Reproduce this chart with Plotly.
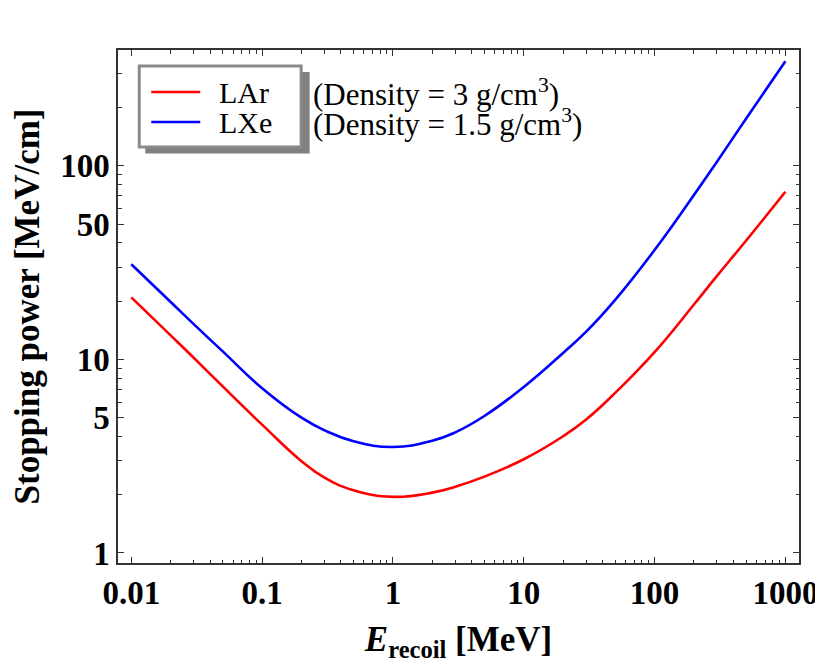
import plotly.graph_objects as go

# ---- data ----
energy_mev = [0.01, 0.02, 0.03, 0.05, 0.1, 0.2, 0.3, 0.5, 1, 2, 3, 5, 10, 20, 30, 50,
              100, 200, 300, 500, 1000]
lar_stopping = [20.9, 13.3, 10.2, 7.25, 4.6, 2.98, 2.45, 2.11, 1.95, 2.05, 2.2, 2.48,
                3.05, 4.01, 4.89, 6.71, 10.9, 19.2, 27.0, 41.0, 73.4]
lxe_stopping = [31.0, 19.8, 15.2, 11.0, 7.1, 5.0, 4.3, 3.78, 3.53, 3.8, 4.2, 5.1,
                7.2, 10.8, 13.9, 20.3, 36.7, 70.6, 105, 175, 347]

series_names = ["LAr", "LXe"]
density_notes = ["(Density = 3 g/cm<sup>3</sup>)", "(Density = 1.5 g/cm<sup>3</sup>)"]

x_tick_vals = [0.01, 0.1, 1, 10, 100, 1000]
x_tick_text = ["0.01", "0.1", "1", "10", "100", "1000"]
y_tick_vals = [1, 5, 10, 50, 100]
y_tick_text = ["1", "5", "10", "50", "100"]

x_minor = [m * 10 ** d for d in range(-2, 3) for m in range(2, 10)]
y_minor = [m * 10 ** d for d in range(0, 3) for m in range(2, 10) if m != 5]
y_minor = [v for v in y_minor if v <= 300]

RED = "#ff0000"
BLUE = "#0000ff"
SERIF = "Liberation Serif"
FRAME = "#333333"

X_RANGE = [-2.1016, 3.104]
Y_RANGE = [-0.0517, 2.598]

fig = go.Figure()
fig.add_trace(go.Scatter(x=energy_mev, y=lar_stopping, mode="lines", name=series_names[0],
                         line=dict(color=RED, width=2.6, shape="spline", smoothing=1.3),
                         showlegend=False))
fig.add_trace(go.Scatter(x=energy_mev, y=lxe_stopping, mode="lines", name=series_names[1],
                         line=dict(color=BLUE, width=2.6, shape="spline", smoothing=1.3),
                         showlegend=False))
# carrier trace for the minor-tick axes (draws nothing)
fig.add_trace(go.Scatter(x=energy_mev[:1], y=lar_stopping[:1], mode="none",
                         xaxis="x2", yaxis="y2", showlegend=False, hoverinfo="skip"))

# the page body has an 8 px margin; these are page pixel positions of the plot area
PL, PR, PT, PB = 117.7, 799.3, 50.0, 562.7
BODY = 8
W, H = 823, 655


def px(x):
    return (x - PL) / (PR - PL)


def py(y):
    return (PB - y) / (PB - PT)


shapes = []
# legend shadow and box
shapes.append(dict(type="rect", xref="paper", yref="paper",
                   x0=px(145), x1=px(309.5), y0=py(153.5), y1=py(72),
                   fillcolor="#808080", line=dict(width=0), layer="above"))
shapes.append(dict(type="rect", xref="paper", yref="paper",
                   x0=px(139), x1=px(301), y0=py(147), y1=py(66),
                   fillcolor="white", line=dict(color="#8a8a8a", width=3), layer="above"))
for yy, col in [(92, RED), (122, BLUE)]:
    shapes.append(dict(type="line", xref="paper", yref="paper",
                       x0=px(151), x1=px(200), y0=py(yy), y1=py(yy),
                       line=dict(color=col, width=2.6), layer="above"))

annotations = []
for yy, name, note in [(92, series_names[0], density_notes[0]),
                       (122, series_names[1], density_notes[1])]:
    annotations.append(dict(xref="paper", yref="paper", x=px(217), y=py(yy),
                            text=name, showarrow=False, xanchor="left", yanchor="middle",
                            font=dict(family=SERIF, size=30, color="black")))
    annotations.append(dict(xref="paper", yref="paper", x=px(311), y=py(yy),
                            text=note, showarrow=False, xanchor="left", yanchor="middle",
                            font=dict(family=SERIF, size=31, color="black")))

axis_common = dict(
    type="log",
    automargin=False,
    showgrid=False,
    zeroline=False,
    showline=True,
    linecolor=FRAME,
    linewidth=1.5,
    mirror="ticks",
    ticks="inside",
    ticklen=6,
    tickwidth=1.2,
    tickcolor=FRAME,
    ticklabeloverflow="allow",
    tickfont=dict(family=SERIF, size=33, color="black", weight="bold"),
)
minor_common = dict(
    type="log",
    automargin=False,
    showgrid=False,
    zeroline=False,
    showline=False,
    mirror="ticks",
    ticks="inside",
    ticklen=3.5,
    tickwidth=1.2,
    tickcolor=FRAME,
    showticklabels=False,
    tickmode="array",
)

fig.update_layout(
    xaxis=dict(
        **axis_common,
        range=X_RANGE,
        tickmode="array", tickvals=x_tick_vals, ticktext=x_tick_text,
        title=dict(text="<i>E</i><sub>recoil</sub> [MeV]", standoff=22,
                   font=dict(family=SERIF, size=35, color="black", weight="bold")),
    ),
    yaxis=dict(
        **axis_common,
        range=Y_RANGE,
        tickmode="array", tickvals=y_tick_vals, ticktext=y_tick_text,
        title=dict(text="Stopping power [MeV/cm]", standoff=17,
                   font=dict(family=SERIF, size=35, color="black", weight="bold")),
    ),
    xaxis2=dict(**minor_common, range=X_RANGE, tickvals=x_minor,
                overlaying="x", anchor="y2", side="bottom"),
    yaxis2=dict(**minor_common, range=Y_RANGE, tickvals=y_minor,
                overlaying="y", anchor="x2", side="left"),
    width=W, height=H,
    margin=dict(l=PL - BODY, r=BODY + W - PR, t=PT - BODY, b=BODY + H - PB),
    paper_bgcolor="white",
    plot_bgcolor="white",
    shapes=shapes,
    annotations=annotations,
    showlegend=False,
)

fig.write_html("out.html")
